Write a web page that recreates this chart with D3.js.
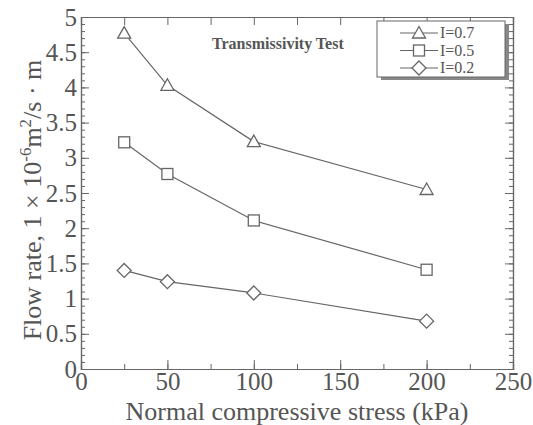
<!DOCTYPE html>
<html><head><meta charset="utf-8">
<script src="https://cdn.jsdelivr.net/npm/d3@7"></script>
<style>
html,body{margin:0;padding:0;background:#fff;}
svg{display:block;font-family:"Liberation Serif","Times New Roman",serif;}
</style></head>
<body>
<svg id="chart" width="533" height="425"></svg>
<script>
const stress = [25, 50, 100, 200];
const flowI07 = [4.77, 4.03, 3.23, 2.55];
const flowI05 = [3.22, 2.77, 2.11, 1.41];
const flowI02 = [1.40, 1.24, 1.08, 0.68];
const seriesNames = ["I=0.7", "I=0.5", "I=0.2"];
const seriesShapes = ["triangle", "square", "diamond"];
const xTicks = [0, 50, 100, 150, 200, 250];
const yTicks = [0, 0.5, 1, 1.5, 2, 2.5, 3, 3.5, 4, 4.5, 5];
const title = "Transmissivity Test";

(function(){
const series = [flowI07, flowI05, flowI02];
const svg = d3.select("#chart");
const ink = "#666";
const pL = 81, pR = 513, pT = 17, pB = 369;
const x = d3.scaleLinear().domain([0, 250]).range([pL, pR]);
const y = d3.scaleLinear().domain([0, 5]).range([pB, pT]);

svg.append("rect").attr("width",533).attr("height",425).attr("fill","#fff");

const xMinor = d3.range(0, 251, 25);
const yMinor = d3.range(0, 51, 1).map(d => d / 10);

function styleAxis(g){
  g.select(".domain").attr("stroke", ink).attr("stroke-width",1.2);
  g.selectAll(".tick line").attr("stroke", ink);
  g.selectAll(".tick text").attr("fill","#555").style("font-size","25px").style("font-family","Liberation Serif, serif");
}
svg.append("g").attr("transform",`translate(${pL},0)`).call(d3.axisLeft(y).tickValues(yMinor).tickSize(-4).tickFormat("")).call(styleAxis);
svg.append("g").attr("transform",`translate(${pR},0)`).call(d3.axisRight(y).tickValues(yMinor).tickSize(-4).tickFormat("")).call(styleAxis);
svg.append("g").attr("transform",`translate(0,${pB})`).call(d3.axisBottom(x).tickValues(xMinor).tickSize(-5).tickFormat("")).call(styleAxis);
svg.append("g").attr("transform",`translate(0,${pT})`).call(d3.axisTop(x).tickValues(xMinor).tickSize(-8).tickFormat("")).call(styleAxis);
svg.append("g").attr("transform",`translate(${pL},0)`).call(d3.axisLeft(y).tickValues(yTicks).tickSize(-8).tickPadding(4).tickFormat(d3.format("~g"))).call(styleAxis);
svg.append("g").attr("transform",`translate(${pR},0)`).call(d3.axisRight(y).tickValues(yTicks).tickSize(-8).tickFormat("")).call(styleAxis);
svg.append("g").attr("transform",`translate(0,${pB})`).call(d3.axisBottom(x).tickValues(xTicks).tickSize(-9).tickPadding(3).tickFormat(d3.format("d"))).call(styleAxis);

svg.append("text").attr("x", (pL+pR)/2).attr("y", 420).attr("text-anchor","middle")
  .attr("fill","#555").style("font-size","26px").text("Normal compressive stress (kPa)");
const yl = svg.append("text").attr("transform","translate(41,200) rotate(-90)").attr("text-anchor","middle")
  .attr("fill","#555").style("font-size","26px");
yl.append("tspan").text("Flow rate, 1 \u00D7 10");
yl.append("tspan").attr("dy",-10).style("font-size","17px").text("-6");
yl.append("tspan").attr("dy",10).text("m");
yl.append("tspan").attr("dy",-10).style("font-size","17px").text("2");
yl.append("tspan").attr("dy",10).text("/s \u00B7 m");

svg.append("text").attr("x", 212).attr("y", 49).attr("fill","#555").style("font-size","16px").style("font-weight","bold").text(title);

function marker(g, shape){
  if(shape==="triangle") g.append("path").attr("d","M0,-6.5L6.5,5L-6.5,5Z");
  else if(shape==="square") g.append("rect").attr("x",-5.5).attr("y",-5.5).attr("width",11).attr("height",11);
  else g.append("path").attr("d","M0,-7L7,0L0,7L-7,0Z");
  g.selectAll("path,rect").attr("fill","#fff").attr("stroke",ink).attr("stroke-width",1.3);
}

const line = d3.line().x((d,i)=>x(stress[i])).y(d=>y(d));
series.forEach((vals, si) => {
  svg.append("path").datum(vals).attr("d", line).attr("fill","none").attr("stroke",ink).attr("stroke-width",1.2);
  vals.forEach((v,i) => {
    const g = svg.append("g").attr("transform",`translate(${x(stress[i])},${y(v)})`);
    marker(g, seriesShapes[si]);
  });
});

const lg = svg.append("g");
lg.append("rect").attr("x",381).attr("y",24).attr("width",128).attr("height",56).attr("fill","#888");
lg.append("rect").attr("x",377).attr("y",21).attr("width",128).attr("height",56).attr("fill","#fff").attr("stroke",ink).attr("stroke-width",1);
seriesNames.forEach((name, i) => {
  const yy = 33 + i*17.5;
  lg.append("line").attr("x1",400).attr("x2",438).attr("y1",yy).attr("y2",yy).attr("stroke",ink).attr("stroke-width",1.2);
  const g = lg.append("g").attr("transform",`translate(419,${yy})`);
  marker(g, seriesShapes[i]);
  lg.append("text").attr("x",440).attr("y",yy+5).attr("fill","#555").style("font-size","16px").text(name);
});
})();
</script>
</body></html>
